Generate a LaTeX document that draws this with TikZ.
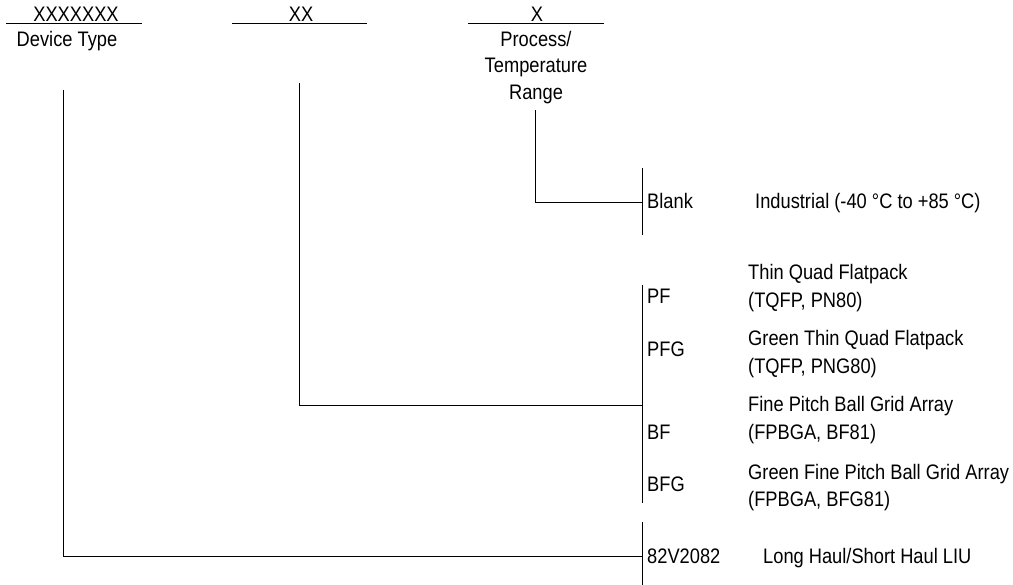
\documentclass[tikz,border=0pt]{standalone}
\usepackage{fontspec}
\setmainfont[FakeStretch=0.87]{Liberation Sans}
\begin{document}
\begin{tikzpicture}[x=1pt,y=-1pt,
  txt/.style={font=\fontsize{21}{24}\selectfont, inner sep=0pt, anchor=base west},
  ctxt/.style={font=\fontsize{21}{24}\selectfont, inner sep=0pt, anchor=base},
  ln/.style={line width=0.9pt, black}]
\useasboundingbox (0,0) rectangle (1013,585);

% top fields
\node[ctxt] (f1) at (76,22) {XXXXXXX};
\node[ctxt] (f2) at (301,22) {XX};
\node[ctxt] (f3) at (537,22) {X};
\coordinate (u1a) at (6,23);   \coordinate (u1b) at (142,23);
\coordinate (u2a) at (232,23); \coordinate (u2b) at (367,23);
\coordinate (u3a) at (468,23); \coordinate (u3b) at (604,23);
\draw[ln] (u1a) -- (u1b);
\draw[ln] (u2a) -- (u2b);
\draw[ln] (u3a) -- (u3b);

\node[ctxt] (dt) at (67,46.5) {Device Type};
\node[ctxt] (pr1) at (536,46.5) {Process/};
\node[ctxt] (pr2) at (536,73) {Temperature};
\node[ctxt] (pr3) at (536,99.5) {Range};

% option groups
\coordinate (gA1) at (642,168); \coordinate (gA2) at (642,235);
\coordinate (gB1) at (642,285); \coordinate (gB2) at (642,503);
\coordinate (gC1) at (642,522); \coordinate (gC2) at (642,585);
\draw[ln] (gA1) -- (gA2);
\draw[ln] (gB1) -- (gB2);
\draw[ln] (gC1) -- (gC2);

\node[txt] (blank) at (647,209) {Blank};
\node[txt] (ind) at (755,209) {Industrial (-40 °C to +85 °C)};

\node[txt] (pf)  at (647,304) {PF};
\node[txt] (pfg) at (647,357) {PFG};
\node[txt] (bf)  at (647,439) {BF};
\node[txt] (bfg) at (647,492) {BFG};

\node[txt] (d1a) at (748,280) {Thin Quad Flatpack};
\node[txt] (d1b) at (748,308) {(TQFP, PN80)};
\node[txt] (d2a) at (748,346) {Green Thin Quad Flatpack};
\node[txt] (d2b) at (748,374) {(TQFP, PNG80)};
\node[txt] (d3a) at (748,412) {Fine Pitch Ball Grid Array};
\node[txt] (d3b) at (748,440) {(FPBGA, BF81)};
\node[txt] (d4a) at (748,479) {Green Fine Pitch Ball Grid Array};
\node[txt] (d4b) at (748,507) {(FPBGA, BFG81)};

\node[txt] (dev) at (647,563) {82V2082};
\node[txt] (liu) at (763,563) {Long Haul/Short Haul LIU};

% connectors
\coordinate (t1) at (63,90);
\coordinate (t2) at (299,83);
\coordinate (t3) at (535,110);
\coordinate (jA) at (642,202);
\coordinate (jB) at (642,405);
\coordinate (jC) at (642,556);
\draw[ln] (t1) |- (jC);
\draw[ln] (t2) |- (jB);
\draw[ln] (t3) |- (jA);
\end{tikzpicture}
\end{document}
